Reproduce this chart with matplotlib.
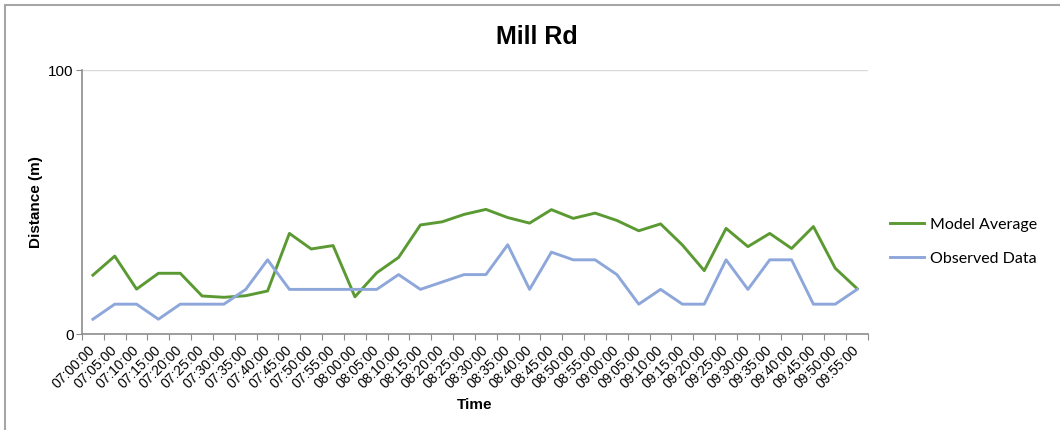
import matplotlib
matplotlib.use("Agg")
import matplotlib.pyplot as plt
from matplotlib.patches import Rectangle

times = ["07:00:00", "07:05:00", "07:10:00", "07:15:00", "07:20:00", "07:25:00",
         "07:30:00", "07:35:00", "07:40:00", "07:45:00", "07:50:00", "07:55:00",
         "08:00:00", "08:05:00", "08:10:00", "08:15:00", "08:20:00", "08:25:00",
         "08:30:00", "08:35:00", "08:40:00", "08:45:00", "08:50:00", "08:55:00",
         "09:00:00", "09:05:00", "09:10:00", "09:15:00", "09:20:00", "09:25:00",
         "09:30:00", "09:35:00", "09:40:00", "09:45:00", "09:50:00", "09:55:00"]
model_avg = [22.3, 29.5, 17.0, 23.0, 23.0, 14.4, 13.9, 14.5, 16.3, 38.1, 32.2, 33.5,
             14.1, 23.2, 29.0, 41.3, 42.5, 45.3, 47.2, 44.1, 42.0, 47.1, 43.8, 45.8,
             43.0, 39.1, 41.7, 33.7, 24.0, 40.0, 33.1, 38.1, 32.4, 40.7, 24.9, 17.2]
observed = [5.6, 11.3, 11.3, 5.6, 11.3, 11.3, 11.3, 16.9, 28.1, 16.9, 16.9, 16.9,
            16.9, 16.9, 22.5, 16.9, 19.7, 22.5, 22.5, 33.8, 16.9, 31.0, 28.1, 28.1,
            22.5, 11.3, 16.9, 11.3, 11.3, 28.1, 16.9, 28.1, 28.1, 11.3, 11.3, 16.9]

GREEN = "#5B9A33"
BLUE = "#8EA7DB"
AX = "#8C8C8C"

plt.rcParams["font.family"] = "sans-serif"
plt.rcParams["font.sans-serif"] = ["Liberation Sans"]

fig = plt.figure(figsize=(10.6, 4.3), dpi=100)
fig.patches.append(Rectangle((5/1060, -0.05), 1.1, 1 - 5/430 + 0.05, transform=fig.transFigure,
                             fill=False, ec="#A6A6A6", lw=1.5))
ax = fig.add_axes([82/1060, 1 - 334/430, (868 - 82)/1060, (334 - 70)/430])

x = list(range(len(times)))
ax.plot(x, model_avg, color=GREEN, lw=2.1, label="Model Average")
ax.plot(x, observed, color=BLUE, lw=2.1, label="Observed Data")

ax.set_xlim(-0.5, len(times) - 0.5)
ax.set_ylim(0, 100)
ax.set_yticks([0, 100])
ax.axhline(100, color="#D9D9D9", lw=1, zorder=0)

ax.set_xticks([i - 0.5 for i in range(len(times) + 1)])
ax.set_xticklabels([])
ax.set_xticks(x, minor=True)
ax.set_xticklabels(times, minor=True, rotation=45, ha="right", va="center",
                   rotation_mode="anchor", fontsize=10)
ax.tick_params(axis="x", which="minor", length=0, pad=10)
ax.tick_params(axis="x", which="major", length=4, color=AX, direction="out")
ax.tick_params(axis="y", length=4, color=AX, labelsize=11, pad=2)

for s in ["top", "right"]:
    ax.spines[s].set_visible(False)
for s in ["left", "bottom"]:
    ax.spines[s].set_color(AX)
    ax.spines[s].set_linewidth(1.2)

ax.set_ylabel("Distance (m)", fontsize=11, fontweight="bold", labelpad=4)
ax.set_xlabel("Time", fontsize=11, fontweight="bold", labelpad=5)

fig.text(537/1060, 1 - 37/430, "Mill Rd", ha="center", va="center",
         fontsize=18, fontweight="bold")

leg = ax.legend(loc="center left", bbox_to_anchor=(1.01, 0.35), frameon=False,
                prop={"family": ["Lato", "DejaVu Sans"], "size": 11.5},
                handlelength=2.1, handletextpad=0.4, labelspacing=1.25)

fig.savefig("out.png", dpi=100)
